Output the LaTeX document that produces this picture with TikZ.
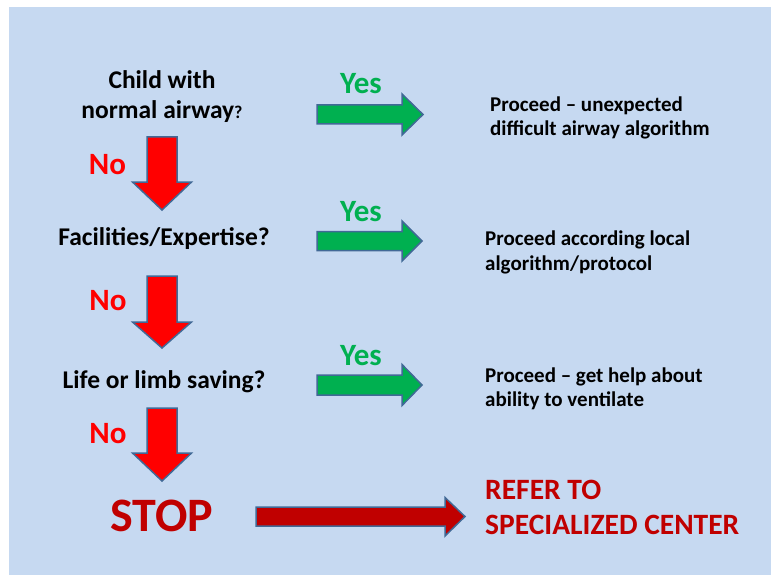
\documentclass[tikz,border=0pt]{standalone}
\usepackage{fontspec}
\setmainfont{Carlito}
\usepackage{xcolor}
\usepackage{tikz}
\definecolor{slideblue}{RGB}{198,217,241}
\definecolor{yesgreen}{RGB}{0,176,80}
\definecolor{stopred}{RGB}{192,0,0}
\definecolor{edgeblue}{RGB}{65,105,150}

\begin{document}
\begin{tikzpicture}[x=1pt, y=-1pt,
  question/.style={align=center, inner sep=0pt, font=\bfseries\fontsize{25.5}{30}\selectfont},
  answer/.style={anchor=west, align=left, inner sep=0pt, font=\bfseries\fontsize{21}{24.5}\selectfont},
  nolabel/.style={inner sep=0pt, text=red, font=\bfseries\fontsize{31}{32}\selectfont},
  yeslabel/.style={inner sep=0pt, text=yesgreen, font=\bfseries\fontsize{31}{32}\selectfont},
  blockarrow/.style={draw=edgeblue, line width=1.5pt, line join=miter}]

\useasboundingbox (0,0) rectangle (771,575);
\fill[white] (0,0) rectangle (771,575);
\fill[slideblue] (9,7) rectangle (771,575); %slide

\node[question] (child) at (162,97) {Child with\\normal airway{\fontsize{18}{20}\selectfont ?}};
\node[question] (facil) at (164,239) {Facilities/Expertise?};
\node[question] (life) at (164,382) {Life or limb saving?};
\node[inner sep=0pt, text=stopred, font=\bfseries\fontsize{48}{50}\selectfont] (stop) at (162,515.5) {STOP};

\node[nolabel] (no1) at (107.5,165) {No};
\node[nolabel] (no2) at (108,301) {No};
\node[nolabel] (no3) at (108,434) {No};
\node[yeslabel] (yes1) at (361,84) {Yes};
\node[yeslabel] (yes2) at (361,212) {Yes};
\node[yeslabel] (yes3) at (361,356) {Yes};

\node[answer] (unexp) at (490,118) {Proceed -- unexpected\\difficult airway algorithm};
\node[answer] (local) at (485,252.5) {Proceed according local\\algorithm/protocol};
\node[answer] (help) at (485,389) {Proceed -- get help about\\ability to ventilate};
\node[answer, text=stopred, font=\bfseries\fontsize{29.5}{35}\selectfont] (refer) at (485,507.5) {REFER TO\\SPECIALIZED CENTER};

\filldraw[blockarrow, fill=red] (147,137) -- (177,137) -- (177,182) -- (191.5,182) -- (162,210) -- (132.5,182) -- (147,182) -- cycle; %no 1
\filldraw[blockarrow, fill=red] (147,276) -- (177,276) -- (177,322) -- (191.5,322) -- (162,348) -- (132.5,322) -- (147,322) -- cycle; %no 2
\filldraw[blockarrow, fill=red] (147,408) -- (177,408) -- (177,453) -- (191.5,453) -- (162,481) -- (132.5,453) -- (147,453) -- cycle; %no 3

\filldraw[blockarrow, fill=yesgreen] (317,105) -- (402,105) -- (402,94) -- (423,114.5) -- (402,135) -- (402,124) -- (317,124) -- cycle; %yes 1
\filldraw[blockarrow, fill=yesgreen] (317,231.5) -- (402,231.5) -- (402,221) -- (422,241) -- (402,261) -- (402,250.5) -- (317,250.5) -- cycle; %yes 2
\filldraw[blockarrow, fill=yesgreen] (317,375) -- (402,375) -- (402,364.5) -- (422,385) -- (402,405.5) -- (402,395) -- (317,395) -- cycle; %yes 3

\filldraw[blockarrow, fill=stopred] (256,507) -- (445,507) -- (445,497.5) -- (465,516.5) -- (445,536) -- (445,526) -- (256,526) -- cycle; %refer
\end{tikzpicture}
\end{document}
